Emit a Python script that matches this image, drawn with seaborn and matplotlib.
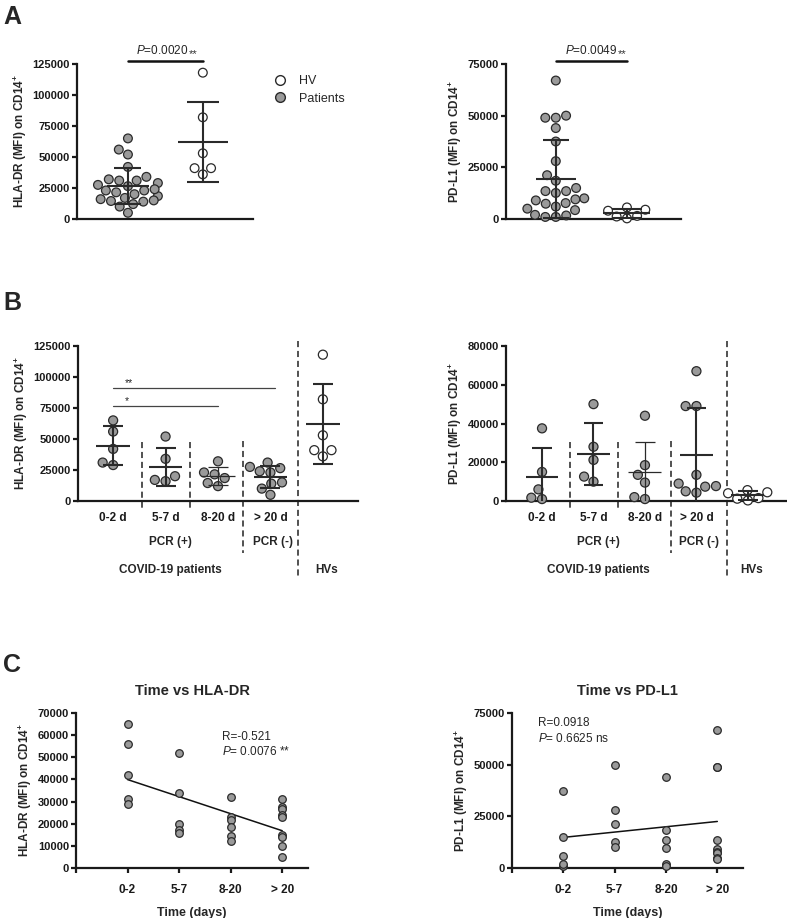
import numpy as np
import pandas as pd
import matplotlib
matplotlib.use('Agg')
import matplotlib.pyplot as plt
import seaborn as sns
from matplotlib.lines import Line2D
from matplotlib import transforms

# ---------------- data ----------------
groups = ['0-2 d', '5-7 d', '8-20 d', '> 20 d']
time_labels = ['0-2', '5-7', '8-20', '> 20']

hla_0_2 = [65000, 56000, 42000, 31000, 29000]
hla_5_7 = [52000, 34000, 20000, 17000, 16000]
hla_8_20 = [32000, 23000, 21500, 18500, 14500, 12000]
hla_gt20 = [31000, 27500, 26500, 24000, 23000, 15000, 14000, 10000, 5000]
hla_hv = [118000, 82000, 53000, 41000, 41000, 36000]

pdl1_0_2 = [37500, 15000, 6000, 1000, 1700]
pdl1_5_7 = [50000, 28000, 21200, 12600, 10000]
pdl1_8_20 = [44000, 18500, 13500, 9500, 2000, 1000]
pdl1_gt20 = [67000, 49000, 49000, 13500, 9000, 7700, 7400, 5000, 4300]
pdl1_hv = [5600, 4500, 4000, 1500, 1200, 300]

hla_groups = [hla_0_2, hla_5_7, hla_8_20, hla_gt20]
pdl1_groups = [pdl1_0_2, pdl1_5_7, pdl1_8_20, pdl1_gt20]

hla_ticks_ab = [0, 25000, 50000, 75000, 100000, 125000]
pdl1_ticks_a = [0, 25000, 50000, 75000]
pdl1_ticks_b = [0, 20000, 40000, 60000, 80000]
hla_ticks_c = [0, 10000, 20000, 30000, 40000, 50000, 60000, 70000]
pdl1_ticks_c = [0, 25000, 50000, 75000]

GRAY = '#9a9a9a'
EDGE = '#2a2a2a'

# ---------------- style ----------------
sns.set_style('ticks')
plt.rcParams.update({
    'font.family': ['Liberation Sans', 'DejaVu Sans'],
    'mathtext.fontset': 'custom',
    'mathtext.rm': 'Liberation Sans',
    'mathtext.it': 'Liberation Sans:italic',
    'mathtext.bf': 'Liberation Sans:bold',
    'axes.linewidth': 1.6,
    'axes.edgecolor': '#1a1a1a',
    'xtick.major.width': 1.6, 'ytick.major.width': 1.6,
    'xtick.major.size': 3.5, 'ytick.major.size': 3.5,
    'xtick.color': '#1a1a1a', 'ytick.color': '#1a1a1a',
    'xtick.labelsize': 8, 'ytick.labelsize': 8,
})

fig = plt.figure(figsize=(7.87, 9.18), dpi=100)
W, H = 787.0, 918.0


def add_ax(x0, x1, y0, y1):
    return fig.add_axes([x0 / W, 1 - y1 / H, (x1 - x0) / W, (y1 - y0) / H])


def style(ax, ylabel, yticks):
    sns.despine(ax=ax)
    ax.set_ylim(0, yticks[-1])
    ax.set_yticks(yticks)
    ax.set_yticklabels([str(t) for t in yticks], fontweight='bold')
    ax.set_ylabel(ylabel, fontweight='bold', fontsize=8.5, labelpad=3)
    ax.tick_params(axis='y', pad=1.5)


def mean_sd(ax, x, vals, mw=0.3, cw=0.18, lw=1.5):
    v = np.asarray(vals, dtype=float)
    m, s = v.mean(), v.std(ddof=1)
    ax.hlines(m, x - mw, x + mw, color=EDGE, lw=lw, zorder=4)
    ax.vlines(x, m - s, m + s, color=EDGE, lw=lw, zorder=4)
    ax.hlines([m - s, m + s], x - cw, x + cw, color=EDGE, lw=lw, zorder=4)


def unclip(ax):
    for c in ax.collections:
        c.set_clip_on(False)


pal = {'Patients': GRAY, 'HV': 'white'}

# ---------------- Panel A ----------------
def panel_a(ax, pat_groups, hv, yticks, ylabel, ptxt, split, xlim):
    pats = [v for g in pat_groups for v in g]
    df = pd.DataFrame({'kind': ['Patients'] * len(pats) + ['HV'] * len(hv),
                       'value': pats + hv})
    sns.swarmplot(data=df, x='kind', y='value', hue='kind', order=['Patients', 'HV'],
                  hue_order=['Patients', 'HV'], palette=pal, size=6.3,
                  edgecolor=EDGE, linewidth=0.9, legend=False, ax=ax, zorder=3)
    unclip(ax)
    mean_sd(ax, 0, pats, mw=0.28, cw=0.18)
    mean_sd(ax, 1, hv, mw=0.33, cw=0.21)
    style(ax, ylabel, yticks)
    ax.set_xlim(*xlim)
    ax.set_xticks([])
    ax.set_xlabel('')
    top = yticks[-1]
    ax.plot([0, 1], [top * 1.02, top * 1.02], color='#111', lw=1.8, clip_on=False)
    ax.text(split, top * 1.045, ptxt, ha='right', va='bottom', fontsize=8.5)
    ax.text(split + 0.01, top * 1.03, '**', ha='left', va='bottom', fontsize=8,
            color='#333')


axA1 = add_ax(77, 253, 64, 219)
panel_a(axA1, hla_groups, hla_hv, hla_ticks_ab, 'HLA-DR (MFI) on CD14$^{\\mathbf{+}}$',
        r'$\mathit{P}$=0.0020', 0.80, (-0.68, 1.67))
axA2 = add_ax(506, 681, 64, 219)
panel_a(axA2, pdl1_groups, pdl1_hv, pdl1_ticks_a, 'PD-L1 (MFI) on CD14$^{\\mathbf{+}}$',
        r'$\mathit{P}$=0.0049', 0.86, (-0.70, 1.76))

handles = [Line2D([], [], marker='o', ls='', mfc='white', mec=EDGE, mew=1.0, ms=7),
           Line2D([], [], marker='o', ls='', mfc=GRAY, mec=EDGE, mew=1.0, ms=7)]
fig.legend(handles, ['HV', 'Patients'], loc='upper left',
           bbox_to_anchor=(262 / W, 1 - 70 / H), frameon=False, fontsize=9,
           handletextpad=0.6, labelspacing=0.45, borderaxespad=0)

# ---------------- Panel B ----------------
def panel_b(ax, pat_groups, hv, yticks, ylabel, xlim, seps, thin_idx=2):
    rows_g, rows_k, rows_v = [], [], []
    for g, vals in zip(groups, pat_groups):
        rows_g += [g] * len(vals); rows_k += ['Patients'] * len(vals); rows_v += vals
    rows_g += ['HVs'] * len(hv); rows_k += ['HV'] * len(hv); rows_v += hv
    df = pd.DataFrame({'group': rows_g, 'kind': rows_k, 'value': rows_v})
    order = groups + ['HVs']
    sns.swarmplot(data=df, x='group', y='value', hue='kind', order=order,
                  hue_order=['Patients', 'HV'], palette=pal, size=6.5,
                  edgecolor=EDGE, linewidth=0.9, legend=False, ax=ax, zorder=3)
    unclip(ax)
    for i, vals in enumerate(pat_groups):
        mean_sd(ax, i, vals, mw=0.32, cw=0.19, lw=0.9 if i == thin_idx else 1.5)
    mean_sd(ax, 4, hv, mw=0.32, cw=0.19)
    style(ax, ylabel, yticks)
    ax.set_xlim(*xlim)
    ax.set_xticks(range(5))
    ax.set_xticklabels(groups + [''], fontweight='bold', fontsize=8.5)
    ax.tick_params(axis='x', length=0, pad=8)
    ax.set_xlabel('')
    trans = transforms.blended_transform_factory(ax.transData, ax.transAxes)
    for xp, y0, y1 in seps:
        ax.plot([xp, xp], [y0, y1], transform=trans, ls=(0, (4, 2.5)), lw=1.1,
                color='#222', clip_on=False)
    kw = dict(transform=trans, ha='center', va='center', fontweight='bold', fontsize=8.5)
    ax.text(1.1, -0.265, 'PCR (+)', **kw)
    ax.text(3.05, -0.265, 'PCR (-)', **kw)
    ax.text(1.1, -0.445, 'COVID-19 patients', **kw)
    ax.text(4.08, -0.445, 'HVs', **kw)


axB1 = add_ax(78, 358, 346, 501)
panel_b(axB1, hla_groups, hla_hv, hla_ticks_ab, 'HLA-DR (MFI) on CD14$^{\\mathbf{+}}$',
        (-0.67, 4.67), [(0.55, 0.38, -0.05), (1.47, 0.38, -0.05),
                        (2.48, 0.39, -0.335), (3.53, 1.03, -0.49)])
axB1.plot([0, 3.08], [91000, 91000], color='#444', lw=0.9)
axB1.text(0.22, 92500, '**', fontsize=7.5, va='baseline', ha='left')
axB1.plot([0, 2.0], [76500, 76500], color='#444', lw=0.9)
axB1.text(0.22, 78000, '*', fontsize=7.5, va='baseline', ha='left')

axB2 = add_ax(506, 787, 346, 501)
panel_b(axB2, pdl1_groups, pdl1_hv, pdl1_ticks_b, 'PD-L1 (MFI) on CD14$^{\\mathbf{+}}$',
        (-0.70, 4.76), [(0.54, 0.38, -0.05), (1.48, 0.38, -0.05),
                        (2.5, 0.39, -0.335), (3.59, 1.03, -0.49)])

# ---------------- Panel C ----------------
def panel_c(ax, pat_groups, yticks, ylabel, title):
    xs, ys = [], []
    for i, vals in enumerate(pat_groups):
        xs += [i + 1] * len(vals); ys += vals
    df = pd.DataFrame({'t': xs, 'value': ys})
    sns.regplot(data=df, x='t', y='value', ci=None, truncate=True, ax=ax,
                color=GRAY,
                scatter_kws=dict(s=30, facecolor=GRAY, edgecolor=EDGE, linewidths=0.9,
                                 alpha=1, zorder=3, clip_on=False),
                line_kws=dict(color='#111', lw=1.1, zorder=2))
    style(ax, ylabel, yticks)
    ax.set_xlim(0, 4.5)
    ax.set_xticks([0, 1, 2, 3, 4])
    ax.set_xticklabels([''] + time_labels, fontweight='bold', fontsize=8.5)
    ax.tick_params(axis='x', pad=8)
    ax.set_xlabel('Time (days)', fontweight='bold', fontsize=9, labelpad=8)
    ax.set_title(title, fontweight='bold', fontsize=10.5, pad=13)


axC1 = add_ax(76, 308, 713, 868)
panel_c(axC1, hla_groups, hla_ticks_c, 'HLA-DR (MFI) on CD14$^{\\mathbf{+}}$', 'Time vs HLA-DR')
axC1.text(2.83, 59000, 'R=-0.521', fontsize=8.5, va='center', ha='left')
axC1.text(2.83, 52500, r'$\mathit{P}$= 0.0076 **', fontsize=8.5, va='center', ha='left')

axC2 = add_ax(512, 743, 713, 868)
panel_c(axC2, pdl1_groups, pdl1_ticks_c, 'PD-L1 (MFI) on CD14$^{\\mathbf{+}}$', 'Time vs PD-L1')
axC2.text(0.5, 70000, 'R=0.0918', fontsize=8.5, va='center', ha='left')
axC2.text(0.5, 62500, r'$\mathit{P}$= 0.6625 ns', fontsize=8.5, va='center', ha='left')

# ---------------- panel letters ----------------
for letter, ytop in [('A', 5), ('B', 291), ('C', 653)]:
    fig.text(3 / W, 1 - ytop / H, letter, fontsize=18, fontweight='bold', va='top', ha='left')

fig.savefig('out.png', dpi=100)
